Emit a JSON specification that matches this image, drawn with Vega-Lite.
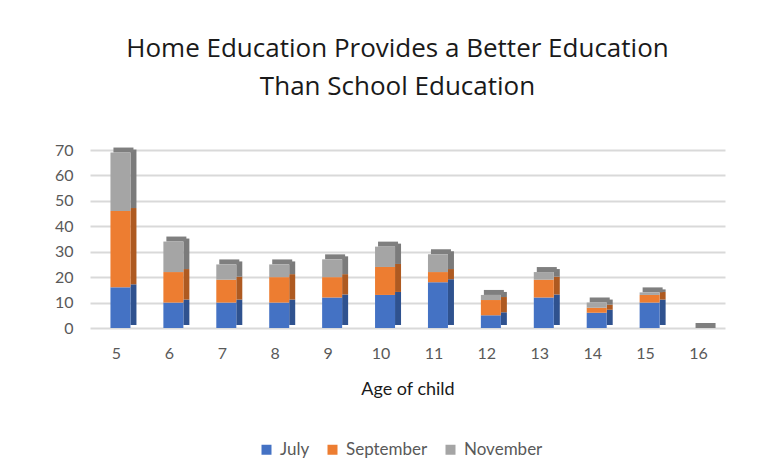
{
  "$schema": "https://vega.github.io/schema/vega-lite/v6.json",
  "autosize": {"type": "none"},
  "width": 635,
  "height": 178,
  "padding": {"left": 90, "top": 150, "right": 47, "bottom": 146},
  "background": "white",
  "title": {
    "text": ["Home Education Provides a Better Education", "Than School Education"],
    "fontSize": 26,
    "lineHeight": 38,
    "font": "Open Sans",
    "fontWeight": "normal",
    "color": "#1a1a1a",
    "anchor": "middle",
    "frame": "group",
    "dx": -10,
    "offset": 42
  },
  "data": {
    "values": [
      {"age": 5, "month": "July", "k": 1, "count": 16},
      {"age": 5, "month": "September", "k": 2, "count": 30},
      {"age": 5, "month": "November", "k": 3, "count": 23},
      {"age": 6, "month": "July", "k": 1, "count": 10},
      {"age": 6, "month": "September", "k": 2, "count": 12},
      {"age": 6, "month": "November", "k": 3, "count": 12},
      {"age": 7, "month": "July", "k": 1, "count": 10},
      {"age": 7, "month": "September", "k": 2, "count": 9},
      {"age": 7, "month": "November", "k": 3, "count": 6},
      {"age": 8, "month": "July", "k": 1, "count": 10},
      {"age": 8, "month": "September", "k": 2, "count": 10},
      {"age": 8, "month": "November", "k": 3, "count": 5},
      {"age": 9, "month": "July", "k": 1, "count": 12},
      {"age": 9, "month": "September", "k": 2, "count": 8},
      {"age": 9, "month": "November", "k": 3, "count": 7},
      {"age": 10, "month": "July", "k": 1, "count": 13},
      {"age": 10, "month": "September", "k": 2, "count": 11},
      {"age": 10, "month": "November", "k": 3, "count": 8},
      {"age": 11, "month": "July", "k": 1, "count": 18},
      {"age": 11, "month": "September", "k": 2, "count": 4},
      {"age": 11, "month": "November", "k": 3, "count": 7},
      {"age": 12, "month": "July", "k": 1, "count": 5},
      {"age": 12, "month": "September", "k": 2, "count": 6},
      {"age": 12, "month": "November", "k": 3, "count": 2},
      {"age": 13, "month": "July", "k": 1, "count": 12},
      {"age": 13, "month": "September", "k": 2, "count": 7},
      {"age": 13, "month": "November", "k": 3, "count": 3},
      {"age": 14, "month": "July", "k": 1, "count": 6},
      {"age": 14, "month": "September", "k": 2, "count": 2},
      {"age": 14, "month": "November", "k": 3, "count": 2},
      {"age": 15, "month": "July", "k": 1, "count": 10},
      {"age": 15, "month": "September", "k": 2, "count": 3},
      {"age": 15, "month": "November", "k": 3, "count": 1},
      {"age": 16, "month": "July", "k": 1, "count": 0},
      {"age": 16, "month": "September", "k": 2, "count": 0},
      {"age": 16, "month": "November", "k": 3, "count": 0}
    ]
  },
  "encoding": {
    "x": {
      "field": "age",
      "type": "ordinal",
      "scale": {"paddingInner": 0, "paddingOuter": 0},
      "axis": {
        "title": "Age of child",
        "labelAngle": 0,
        "labelPadding": 17,
        "titlePadding": 19,
        "domain": false,
        "ticks": false,
        "grid": false
      }
    }
  },
  "layer": [
    {
      "mark": {"type": "bar", "width": 6, "xOffset": 17, "yOffset": -3},
      "encoding": {
        "y": {
          "field": "count",
          "type": "quantitative",
          "stack": "zero",
          "scale": {"domain": [0, 70], "nice": false},
          "axis": {
            "title": null,
            "values": [0, 10, 20, 30, 40, 50, 60, 70],
            "labelPadding": 17,
            "domain": false,
            "ticks": false,
            "grid": true
          }
        },
        "order": {"field": "k", "type": "quantitative", "sort": "ascending"},
        "color": {
          "field": "month",
          "type": "nominal",
          "scale": {"domain": ["July", "September", "November"], "range": ["#2F528F", "#AE5A21", "#7B7B7B"]},
          "legend": null
        }
      }
    },
    {
      "mark": {"type": "tick", "orient": "horizontal", "size": 20, "thickness": 5, "xOffset": 7, "yOffset": -2.5, "color": "#7F7F7F", "opacity": 1},
      "encoding": {
        "y": {
          "field": "count",
          "type": "quantitative",
          "aggregate": "sum",
          "title": null,
          "scale": {"domain": [0, 70], "nice": false},
          "axis": {
            "title": null,
            "values": [0, 10, 20, 30, 40, 50, 60, 70],
            "labelPadding": 17,
            "domain": false,
            "ticks": false,
            "grid": true
          }
        }
      }
    },
    {
      "mark": {"type": "bar", "width": 20, "xOffset": 4},
      "encoding": {
        "y": {
          "field": "count",
          "type": "quantitative",
          "stack": "zero",
          "scale": {"domain": [0, 70], "nice": false},
          "axis": {
            "title": null,
            "values": [0, 10, 20, 30, 40, 50, 60, 70],
            "labelPadding": 17,
            "domain": false,
            "ticks": false,
            "grid": true
          }
        },
        "order": {"field": "k", "type": "quantitative", "sort": "ascending"},
        "color": {
          "field": "month",
          "type": "nominal",
          "scale": {"domain": ["July", "September", "November"], "range": ["#4472C4", "#ED7D31", "#A5A5A5"]},
          "legend": {
            "title": null,
            "orient": "none",
            "direction": "horizontal",
            "legendX": 168,
            "legendY": 291,
            "symbolType": "square",
            "symbolSize": 100,
            "symbolStrokeWidth": 0,
            "columnPadding": 14,
            "labelOffset": 5
          }
        }
      }
    }
  ],
  "resolve": {"scale": {"color": "independent"}, "legend": {"color": "independent"}},
  "config": {
    "font": "Lato",
    "view": {"stroke": null},
    "axis": {
      "labelFont": "Lato",
      "labelFontSize": 16,
      "labelColor": "#595959",
      "titleFont": "Lato",
      "titleFontSize": 18,
      "titleFontWeight": "normal",
      "titleColor": "#1a1a1a",
      "gridColor": "#D9D9D9",
      "gridWidth": 2
    },
    "legend": {
      "labelFont": "Lato",
      "labelFontSize": 17,
      "labelColor": "#595959"
    }
  }
}
